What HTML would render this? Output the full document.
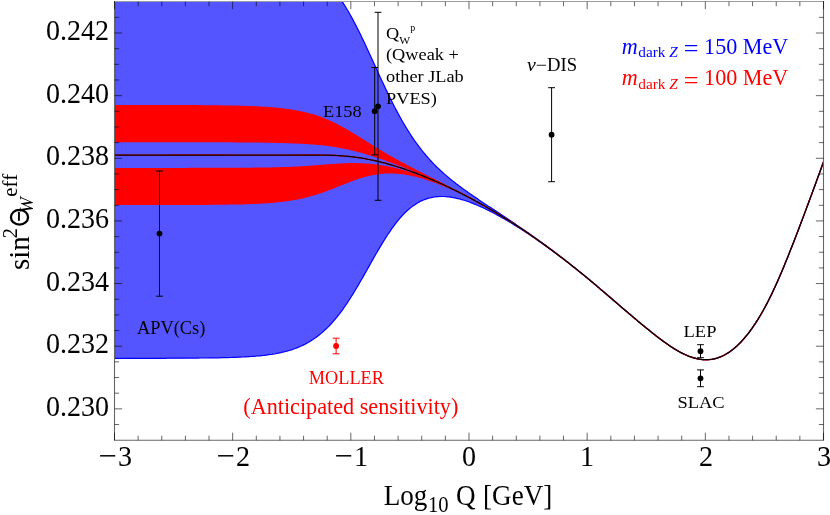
<!DOCTYPE html>
<html><head><meta charset="utf-8"><title>sin2 theta_W running with dark Z</title>
<style>
html,body{margin:0;padding:0;background:#fff;}
#w{position:relative;width:830px;height:515px;overflow:hidden;background:#fff;font-family:"Liberation Serif",serif;}
.t{position:absolute;white-space:nowrap;line-height:1;font-family:"Liberation Serif",serif;}
#tl{position:absolute;left:0;top:0;width:830px;height:515px;will-change:transform;}
</style></head><body><div id="w">
<svg width="830" height="515" viewBox="0 0 830 515" style="position:absolute;left:0;top:0">
<defs><clipPath id="c"><rect x="115.0" y="2.0" width="708.0" height="437.8"/></clipPath></defs>
<g clip-path="url(#c)">
<path d="M114.5,-48.2 L116.0,-48.2 L117.5,-48.2 L119.0,-48.2 L120.5,-48.2 L122.0,-48.2 L123.5,-48.2 L125.0,-48.2 L126.5,-48.2 L128.0,-48.2 L129.5,-48.2 L131.0,-48.2 L132.5,-48.2 L134.0,-48.2 L135.5,-48.2 L137.0,-48.2 L138.5,-48.2 L140.0,-48.2 L141.5,-48.2 L143.0,-48.2 L144.5,-48.2 L146.0,-48.2 L147.5,-48.2 L149.0,-48.2 L150.5,-48.2 L152.0,-48.2 L153.5,-48.2 L155.0,-48.2 L156.5,-48.2 L158.0,-48.2 L159.5,-48.2 L161.0,-48.2 L162.5,-48.2 L164.0,-48.1 L165.5,-48.1 L167.0,-48.1 L168.5,-48.1 L170.0,-48.1 L171.5,-48.1 L173.0,-48.1 L174.5,-48.1 L176.0,-48.1 L177.5,-48.1 L179.0,-48.1 L180.5,-48.1 L182.0,-48.1 L183.5,-48.1 L185.0,-48.1 L186.5,-48.1 L188.0,-48.1 L189.5,-48.1 L191.0,-48.1 L192.5,-48.1 L194.0,-48.0 L195.5,-48.0 L197.0,-48.0 L198.5,-48.0 L200.0,-48.0 L201.5,-48.0 L203.0,-48.0 L204.5,-47.9 L206.0,-47.9 L207.5,-47.9 L209.0,-47.9 L210.5,-47.9 L212.0,-47.8 L213.5,-47.8 L215.0,-47.8 L216.5,-47.7 L218.0,-47.7 L219.5,-47.7 L221.0,-47.7 L222.5,-47.6 L224.0,-47.6 L225.5,-47.5 L227.0,-47.5 L228.5,-47.4 L230.0,-47.4 L231.5,-47.3 L233.0,-47.3 L234.5,-47.2 L236.0,-47.2 L237.5,-47.1 L239.0,-47.0 L240.5,-47.0 L242.0,-46.9 L243.5,-46.8 L245.0,-46.7 L246.5,-46.7 L248.0,-46.6 L249.5,-46.5 L251.0,-46.4 L252.5,-46.2 L254.0,-46.1 L255.5,-46.0 L257.0,-45.9 L258.5,-45.7 L260.0,-45.6 L261.5,-45.4 L263.0,-45.3 L264.5,-45.1 L266.0,-44.9 L267.5,-44.7 L269.0,-44.5 L270.5,-44.3 L272.0,-44.1 L273.5,-43.8 L275.0,-43.6 L276.5,-43.3 L278.0,-43.0 L279.5,-42.7 L281.0,-42.4 L282.5,-42.1 L284.0,-41.7 L285.5,-41.4 L287.0,-41.0 L288.5,-40.5 L290.0,-40.1 L291.5,-39.6 L293.0,-39.2 L294.5,-38.6 L296.0,-38.1 L297.5,-37.5 L299.0,-36.9 L300.5,-36.3 L302.0,-35.6 L303.5,-34.9 L305.0,-34.2 L306.5,-33.4 L308.0,-32.6 L309.5,-31.7 L311.0,-30.8 L312.5,-29.8 L314.0,-28.8 L315.5,-27.8 L317.0,-26.7 L318.5,-25.5 L320.0,-24.3 L321.5,-23.0 L323.0,-21.6 L324.5,-20.2 L326.0,-18.8 L327.5,-17.2 L329.0,-15.6 L330.5,-14.0 L332.0,-12.2 L333.5,-10.4 L335.0,-8.5 L336.5,-6.5 L338.0,-4.5 L339.5,-2.4 L341.0,-0.2 L342.5,2.1 L344.0,4.4 L345.5,6.8 L347.0,9.3 L348.5,11.8 L350.0,14.5 L351.5,17.1 L353.0,19.9 L354.5,22.7 L356.0,25.6 L357.5,28.6 L359.0,31.5 L360.5,34.6 L362.0,37.7 L363.5,40.8 L365.0,44.0 L366.5,47.2 L368.0,50.4 L369.5,53.7 L371.0,56.9 L372.5,60.2 L374.0,63.5 L375.5,66.8 L377.0,70.1 L378.5,73.4 L380.0,76.7 L381.5,79.9 L383.0,83.1 L384.5,86.3 L386.0,89.5 L387.5,92.6 L389.0,95.7 L390.5,98.8 L392.0,101.8 L393.5,104.8 L395.0,107.7 L396.5,110.6 L398.0,113.4 L399.5,116.1 L401.0,118.8 L402.5,121.5 L404.0,124.0 L405.5,126.6 L407.0,129.0 L408.5,131.4 L410.0,133.8 L411.5,136.1 L413.0,138.3 L414.5,140.5 L416.0,142.6 L417.5,144.7 L419.0,146.7 L420.5,148.6 L422.0,150.5 L423.5,152.4 L425.0,154.2 L426.5,156.0 L428.0,157.7 L429.5,159.4 L431.0,161.0 L432.5,162.6 L434.0,164.2 L435.5,165.7 L437.0,167.2 L438.5,168.6 L440.0,170.0 L441.5,171.4 L443.0,172.8 L444.5,174.1 L446.0,175.4 L447.5,176.7 L449.0,177.9 L450.5,179.2 L452.0,180.4 L453.5,181.6 L455.0,182.7 L456.5,183.9 L458.0,185.0 L459.5,186.2 L461.0,187.3 L462.5,188.4 L464.0,189.5 L465.5,190.5 L467.0,191.6 L468.5,192.7 L470.0,193.7 L471.5,194.7 L473.0,195.8 L474.5,196.8 L476.0,197.8 L477.5,198.8 L479.0,199.9 L480.5,200.9 L482.0,201.9 L483.5,202.9 L485.0,203.9 L486.5,204.9 L488.0,205.9 L489.5,206.8 L491.0,207.8 L492.5,208.8 L494.0,209.8 L495.5,210.8 L497.0,211.8 L498.5,212.8 L500.0,213.8 L501.5,214.8 L503.0,215.8 L504.5,216.8 L506.0,217.8 L507.5,218.8 L509.0,219.8 L510.5,220.8 L512.0,221.8 L513.5,222.8 L515.0,223.8 L516.5,224.9 L518.0,225.9 L519.5,226.9 L521.0,227.9 L522.5,229.0 L524.0,230.0 L525.5,231.0 L527.0,232.1 L528.5,233.1 L530.0,234.2 L531.5,235.3 L533.0,236.3 L534.5,237.4 L536.0,238.5 L537.5,239.5 L539.0,240.6 L540.5,241.7 L542.0,242.8 L543.5,243.9 L545.0,245.0 L546.5,246.1 L548.0,247.2 L549.5,248.3 L551.0,249.4 L552.5,250.5 L554.0,251.7 L555.5,252.8 L557.0,253.9 L558.5,255.1 L560.0,256.2 L561.5,257.4 L563.0,258.5 L564.5,259.7 L566.0,260.9 L567.5,262.0 L569.0,263.2 L570.5,264.4 L572.0,265.6 L573.5,266.8 L575.0,268.0 L576.5,269.2 L578.0,270.4 L579.5,271.6 L581.0,272.8 L582.5,274.1 L584.0,275.3 L585.5,276.5 L587.0,277.8 L588.5,279.0 L590.0,280.3 L591.5,281.5 L593.0,282.8 L594.5,284.0 L596.0,285.3 L597.5,286.6 L599.0,287.9 L600.5,289.1 L602.0,290.4 L603.5,291.7 L605.0,293.0 L606.5,294.3 L608.0,295.5 L609.5,296.8 L611.0,298.1 L612.5,299.4 L614.0,300.7 L615.5,302.0 L617.0,303.3 L618.5,304.6 L620.0,305.9 L621.5,307.2 L623.0,308.4 L624.5,309.7 L626.0,311.0 L627.5,312.3 L629.0,313.6 L630.5,314.8 L632.0,316.1 L633.5,317.4 L635.0,318.6 L636.5,319.9 L638.0,321.2 L639.5,322.4 L641.0,323.6 L642.5,324.9 L644.0,326.1 L645.5,327.4 L647.0,328.6 L648.5,329.8 L650.0,331.0 L651.5,332.2 L653.0,333.4 L654.5,334.6 L656.0,335.8 L657.5,336.9 L659.0,338.1 L660.5,339.2 L662.0,340.3 L663.5,341.4 L665.0,342.5 L666.5,343.6 L668.0,344.6 L669.5,345.7 L671.0,346.7 L672.5,347.6 L674.0,348.6 L675.5,349.5 L677.0,350.4 L678.5,351.2 L680.0,352.1 L681.5,352.9 L683.0,353.6 L684.5,354.3 L686.0,355.0 L687.5,355.7 L689.0,356.3 L690.5,356.8 L692.0,357.3 L693.5,357.8 L695.0,358.2 L696.5,358.6 L698.0,358.9 L699.5,359.2 L701.0,359.4 L702.5,359.6 L704.0,359.7 L705.5,359.7 L707.0,359.7 L708.5,359.7 L710.0,359.5 L711.5,359.4 L713.0,359.1 L714.5,358.8 L716.0,358.4 L717.5,358.0 L719.0,357.4 L720.5,356.9 L722.0,356.2 L723.5,355.5 L725.0,354.7 L726.5,353.8 L728.0,352.9 L729.5,351.9 L731.0,350.8 L732.5,349.7 L734.0,348.5 L735.5,347.2 L737.0,345.9 L738.5,344.4 L740.0,343.0 L741.5,341.4 L743.0,339.7 L744.5,338.0 L746.0,336.2 L747.5,334.4 L749.0,332.5 L750.5,330.4 L752.0,328.4 L753.5,326.2 L755.0,324.0 L756.5,321.7 L758.0,319.3 L759.5,316.8 L761.0,314.3 L762.5,311.7 L764.0,309.0 L765.5,306.2 L767.0,303.4 L768.5,300.5 L770.0,297.5 L771.5,294.4 L773.0,291.2 L774.5,288.0 L776.0,284.7 L777.5,281.4 L779.0,278.0 L780.5,274.5 L782.0,271.0 L783.5,267.4 L785.0,263.8 L786.5,260.1 L788.0,256.4 L789.5,252.6 L791.0,248.8 L792.5,245.0 L794.0,241.2 L795.5,237.3 L797.0,233.4 L798.5,229.5 L800.0,225.5 L801.5,221.5 L803.0,217.6 L804.5,213.6 L806.0,209.6 L807.5,205.5 L809.0,201.5 L810.5,197.4 L812.0,193.4 L813.5,189.3 L815.0,185.2 L816.5,181.1 L818.0,177.0 L819.5,172.9 L821.0,168.8 L823.5,161.9 L823.5,161.9 L821.0,168.8 L819.5,172.9 L818.0,177.0 L816.5,181.1 L815.0,185.2 L813.5,189.3 L812.0,193.4 L810.5,197.4 L809.0,201.5 L807.5,205.5 L806.0,209.6 L804.5,213.6 L803.0,217.6 L801.5,221.5 L800.0,225.5 L798.5,229.5 L797.0,233.4 L795.5,237.3 L794.0,241.2 L792.5,245.0 L791.0,248.8 L789.5,252.6 L788.0,256.4 L786.5,260.1 L785.0,263.8 L783.5,267.4 L782.0,271.0 L780.5,274.5 L779.0,278.0 L777.5,281.4 L776.0,284.7 L774.5,288.0 L773.0,291.2 L771.5,294.4 L770.0,297.5 L768.5,300.5 L767.0,303.4 L765.5,306.2 L764.0,309.0 L762.5,311.7 L761.0,314.3 L759.5,316.8 L758.0,319.3 L756.5,321.7 L755.0,324.0 L753.5,326.2 L752.0,328.4 L750.5,330.4 L749.0,332.5 L747.5,334.4 L746.0,336.2 L744.5,338.0 L743.0,339.7 L741.5,341.4 L740.0,343.0 L738.5,344.4 L737.0,345.9 L735.5,347.2 L734.0,348.5 L732.5,349.7 L731.0,350.8 L729.5,351.9 L728.0,352.9 L726.5,353.8 L725.0,354.7 L723.5,355.5 L722.0,356.2 L720.5,356.9 L719.0,357.4 L717.5,358.0 L716.0,358.4 L714.5,358.8 L713.0,359.1 L711.5,359.4 L710.0,359.5 L708.5,359.7 L707.0,359.7 L705.5,359.7 L704.0,359.7 L702.5,359.6 L701.0,359.4 L699.5,359.2 L698.0,358.9 L696.5,358.6 L695.0,358.2 L693.5,357.8 L692.0,357.3 L690.5,356.8 L689.0,356.3 L687.5,355.7 L686.0,355.0 L684.5,354.3 L683.0,353.6 L681.5,352.9 L680.0,352.1 L678.5,351.2 L677.0,350.4 L675.5,349.5 L674.0,348.6 L672.5,347.6 L671.0,346.7 L669.5,345.7 L668.0,344.6 L666.5,343.6 L665.0,342.5 L663.5,341.4 L662.0,340.3 L660.5,339.2 L659.0,338.1 L657.5,336.9 L656.0,335.8 L654.5,334.6 L653.0,333.4 L651.5,332.2 L650.0,331.0 L648.5,329.8 L647.0,328.6 L645.5,327.4 L644.0,326.1 L642.5,324.9 L641.0,323.7 L639.5,322.4 L638.0,321.2 L636.5,319.9 L635.0,318.7 L633.5,317.4 L632.0,316.1 L630.5,314.9 L629.0,313.6 L627.5,312.3 L626.0,311.0 L624.5,309.7 L623.0,308.5 L621.5,307.2 L620.0,305.9 L618.5,304.6 L617.0,303.3 L615.5,302.0 L614.0,300.7 L612.5,299.5 L611.0,298.2 L609.5,296.9 L608.0,295.6 L606.5,294.3 L605.0,293.0 L603.5,291.7 L602.0,290.5 L600.5,289.2 L599.0,287.9 L597.5,286.6 L596.0,285.4 L594.5,284.1 L593.0,282.8 L591.5,281.6 L590.0,280.3 L588.5,279.1 L587.0,277.9 L585.5,276.6 L584.0,275.4 L582.5,274.2 L581.0,272.9 L579.5,271.7 L578.0,270.5 L576.5,269.3 L575.0,268.1 L573.5,266.9 L572.0,265.8 L570.5,264.6 L569.0,263.4 L567.5,262.2 L566.0,261.1 L564.5,259.9 L563.0,258.8 L561.5,257.6 L560.0,256.5 L558.5,255.4 L557.0,254.2 L555.5,253.1 L554.0,252.0 L552.5,250.9 L551.0,249.8 L549.5,248.7 L548.0,247.6 L546.5,246.5 L545.0,245.4 L543.5,244.4 L542.0,243.3 L540.5,242.3 L539.0,241.2 L537.5,240.2 L536.0,239.1 L534.5,238.1 L533.0,237.1 L531.5,236.1 L530.0,235.0 L528.5,234.0 L527.0,233.0 L525.5,232.1 L524.0,231.1 L522.5,230.1 L521.0,229.1 L519.5,228.2 L518.0,227.2 L516.5,226.3 L515.0,225.4 L513.5,224.4 L512.0,223.5 L510.5,222.6 L509.0,221.7 L507.5,220.8 L506.0,219.9 L504.5,219.1 L503.0,218.2 L501.5,217.4 L500.0,216.5 L498.5,215.7 L497.0,214.9 L495.5,214.0 L494.0,213.2 L492.5,212.5 L491.0,211.7 L489.5,210.9 L488.0,210.2 L486.5,209.4 L485.0,208.7 L483.5,208.0 L482.0,207.3 L480.5,206.6 L479.0,206.0 L477.5,205.3 L476.0,204.7 L474.5,204.1 L473.0,203.5 L471.5,202.9 L470.0,202.3 L468.5,201.8 L467.0,201.3 L465.5,200.8 L464.0,200.3 L462.5,199.8 L461.0,199.4 L459.5,199.0 L458.0,198.6 L456.5,198.3 L455.0,197.9 L453.5,197.6 L452.0,197.4 L450.5,197.1 L449.0,196.9 L447.5,196.8 L446.0,196.6 L444.5,196.5 L443.0,196.5 L441.5,196.5 L440.0,196.5 L438.5,196.6 L437.0,196.7 L435.5,196.8 L434.0,197.0 L432.5,197.3 L431.0,197.6 L429.5,198.0 L428.0,198.4 L426.5,198.9 L425.0,199.4 L423.5,200.0 L422.0,200.6 L420.5,201.3 L419.0,202.1 L417.5,203.0 L416.0,203.9 L414.5,204.9 L413.0,205.9 L411.5,207.1 L410.0,208.3 L408.5,209.5 L407.0,210.9 L405.5,212.3 L404.0,213.8 L402.5,215.4 L401.0,217.0 L399.5,218.7 L398.0,220.5 L396.5,222.4 L395.0,224.3 L393.5,226.3 L392.0,228.4 L390.5,230.6 L389.0,232.8 L387.5,235.0 L386.0,237.3 L384.5,239.7 L383.0,242.1 L381.5,244.6 L380.0,247.1 L378.5,249.6 L377.0,252.2 L375.5,254.8 L374.0,257.5 L372.5,260.1 L371.0,262.8 L369.5,265.4 L368.0,268.1 L366.5,270.8 L365.0,273.4 L363.5,276.1 L362.0,278.7 L360.5,281.3 L359.0,283.9 L357.5,286.5 L356.0,289.0 L354.5,291.5 L353.0,293.9 L351.5,296.3 L350.0,298.7 L348.5,301.0 L347.0,303.3 L345.5,305.5 L344.0,307.6 L342.5,309.8 L341.0,311.8 L339.5,313.8 L338.0,315.7 L336.5,317.6 L335.0,319.4 L333.5,321.2 L332.0,322.8 L330.5,324.5 L329.0,326.1 L327.5,327.6 L326.0,329.0 L324.5,330.4 L323.0,331.8 L321.5,333.1 L320.0,334.3 L318.5,335.5 L317.0,336.7 L315.5,337.8 L314.0,338.8 L312.5,339.8 L311.0,340.8 L309.5,341.7 L308.0,342.6 L306.5,343.4 L305.0,344.2 L303.5,344.9 L302.0,345.7 L300.5,346.3 L299.0,347.0 L297.5,347.6 L296.0,348.2 L294.5,348.7 L293.0,349.3 L291.5,349.8 L290.0,350.2 L288.5,350.7 L287.0,351.1 L285.5,351.5 L284.0,351.9 L282.5,352.2 L281.0,352.6 L279.5,352.9 L278.0,353.2 L276.5,353.5 L275.0,353.8 L273.5,354.0 L272.0,354.3 L270.5,354.5 L269.0,354.7 L267.5,354.9 L266.0,355.1 L264.5,355.3 L263.0,355.5 L261.5,355.6 L260.0,355.8 L258.5,355.9 L257.0,356.0 L255.5,356.2 L254.0,356.3 L252.5,356.4 L251.0,356.5 L249.5,356.6 L248.0,356.7 L246.5,356.8 L245.0,356.9 L243.5,357.0 L242.0,357.0 L240.5,357.1 L239.0,357.2 L237.5,357.2 L236.0,357.3 L234.5,357.4 L233.0,357.4 L231.5,357.5 L230.0,357.5 L228.5,357.6 L227.0,357.6 L225.5,357.6 L224.0,357.7 L222.5,357.7 L221.0,357.7 L219.5,357.8 L218.0,357.8 L216.5,357.8 L215.0,357.8 L213.5,357.9 L212.0,357.9 L210.5,357.9 L209.0,357.9 L207.5,358.0 L206.0,358.0 L204.5,358.0 L203.0,358.0 L201.5,358.0 L200.0,358.0 L198.5,358.1 L197.0,358.1 L195.5,358.1 L194.0,358.1 L192.5,358.1 L191.0,358.1 L189.5,358.1 L188.0,358.1 L186.5,358.1 L185.0,358.2 L183.5,358.2 L182.0,358.2 L180.5,358.2 L179.0,358.2 L177.5,358.2 L176.0,358.2 L174.5,358.2 L173.0,358.2 L171.5,358.2 L170.0,358.2 L168.5,358.2 L167.0,358.2 L165.5,358.3 L164.0,358.3 L162.5,358.3 L161.0,358.3 L159.5,358.3 L158.0,358.3 L156.5,358.3 L155.0,358.3 L153.5,358.3 L152.0,358.3 L150.5,358.3 L149.0,358.3 L147.5,358.3 L146.0,358.3 L144.5,358.3 L143.0,358.3 L141.5,358.3 L140.0,358.3 L138.5,358.3 L137.0,358.3 L135.5,358.3 L134.0,358.3 L132.5,358.3 L131.0,358.3 L129.5,358.3 L128.0,358.3 L126.5,358.3 L125.0,358.3 L123.5,358.3 L122.0,358.3 L120.5,358.3 L119.0,358.3 L117.5,358.3 L116.0,358.3 L114.5,358.3Z" fill="#5555ff" stroke="#0000ff" stroke-width="1.2"/>
<path d="M114.5,105.0 L116.0,105.0 L117.5,105.0 L119.0,105.0 L120.5,105.0 L122.0,105.1 L123.5,105.1 L125.0,105.1 L126.5,105.1 L128.0,105.1 L129.5,105.1 L131.0,105.1 L132.5,105.1 L134.0,105.1 L135.5,105.1 L137.0,105.1 L138.5,105.1 L140.0,105.1 L141.5,105.1 L143.0,105.1 L144.5,105.1 L146.0,105.1 L147.5,105.1 L149.0,105.1 L150.5,105.1 L152.0,105.1 L153.5,105.1 L155.0,105.1 L156.5,105.1 L158.0,105.1 L159.5,105.1 L161.0,105.1 L162.5,105.1 L164.0,105.1 L165.5,105.1 L167.0,105.1 L168.5,105.1 L170.0,105.1 L171.5,105.1 L173.0,105.1 L174.5,105.1 L176.0,105.1 L177.5,105.1 L179.0,105.1 L180.5,105.1 L182.0,105.1 L183.5,105.1 L185.0,105.1 L186.5,105.1 L188.0,105.1 L189.5,105.1 L191.0,105.1 L192.5,105.1 L194.0,105.1 L195.5,105.1 L197.0,105.1 L198.5,105.1 L200.0,105.1 L201.5,105.2 L203.0,105.2 L204.5,105.2 L206.0,105.2 L207.5,105.2 L209.0,105.2 L210.5,105.2 L212.0,105.2 L213.5,105.3 L215.0,105.3 L216.5,105.3 L218.0,105.3 L219.5,105.3 L221.0,105.3 L222.5,105.4 L224.0,105.4 L225.5,105.4 L227.0,105.4 L228.5,105.5 L230.0,105.5 L231.5,105.5 L233.0,105.5 L234.5,105.6 L236.0,105.6 L237.5,105.6 L239.0,105.7 L240.5,105.7 L242.0,105.8 L243.5,105.8 L245.0,105.9 L246.5,105.9 L248.0,106.0 L249.5,106.0 L251.0,106.1 L252.5,106.1 L254.0,106.2 L255.5,106.3 L257.0,106.3 L258.5,106.4 L260.0,106.5 L261.5,106.6 L263.0,106.7 L264.5,106.7 L266.0,106.8 L267.5,106.9 L269.0,107.1 L270.5,107.2 L272.0,107.3 L273.5,107.4 L275.0,107.5 L276.5,107.7 L278.0,107.8 L279.5,108.0 L281.0,108.1 L282.5,108.3 L284.0,108.5 L285.5,108.7 L287.0,108.9 L288.5,109.1 L290.0,109.3 L291.5,109.5 L293.0,109.8 L294.5,110.0 L296.0,110.3 L297.5,110.6 L299.0,110.9 L300.5,111.2 L302.0,111.5 L303.5,111.8 L305.0,112.2 L306.5,112.5 L308.0,112.9 L309.5,113.3 L311.0,113.7 L312.5,114.1 L314.0,114.6 L315.5,115.1 L317.0,115.5 L318.5,116.1 L320.0,116.6 L321.5,117.1 L323.0,117.7 L324.5,118.3 L326.0,118.9 L327.5,119.5 L329.0,120.2 L330.5,120.8 L332.0,121.5 L333.5,122.2 L335.0,123.0 L336.5,123.7 L338.0,124.5 L339.5,125.3 L341.0,126.1 L342.5,126.9 L344.0,127.7 L345.5,128.5 L347.0,129.4 L348.5,130.3 L350.0,131.2 L351.5,132.1 L353.0,133.0 L354.5,133.9 L356.0,134.8 L357.5,135.7 L359.0,136.7 L360.5,137.6 L362.0,138.5 L363.5,139.5 L365.0,140.4 L366.5,141.4 L368.0,142.3 L369.5,143.3 L371.0,144.2 L372.5,145.1 L374.0,146.1 L375.5,147.0 L377.0,147.9 L378.5,148.8 L380.0,149.7 L381.5,150.6 L383.0,151.5 L384.5,152.4 L386.0,153.3 L387.5,154.2 L389.0,155.0 L390.5,155.9 L392.0,156.7 L393.5,157.6 L395.0,158.4 L396.5,159.3 L398.0,160.1 L399.5,160.9 L401.0,161.7 L402.5,162.5 L404.0,163.3 L405.5,164.1 L407.0,164.9 L408.5,165.7 L410.0,166.5 L411.5,167.3 L413.0,168.0 L414.5,168.8 L416.0,169.6 L417.5,170.4 L419.0,171.1 L420.5,171.9 L422.0,172.6 L423.5,173.4 L425.0,174.2 L426.5,174.9 L428.0,175.7 L429.5,176.4 L431.0,177.2 L432.5,178.0 L434.0,178.7 L435.5,179.5 L437.0,180.2 L438.5,181.0 L440.0,181.8 L441.5,182.5 L443.0,183.3 L444.5,184.0 L446.0,184.8 L447.5,185.6 L449.0,186.4 L450.5,187.1 L452.0,187.9 L453.5,188.7 L455.0,189.5 L456.5,190.3 L458.0,191.1 L459.5,191.9 L461.0,192.7 L462.5,193.5 L464.0,194.3 L465.5,195.1 L467.0,195.9 L468.5,196.7 L470.0,197.5 L471.5,198.4 L473.0,199.2 L474.5,200.0 L476.0,200.9 L477.5,201.7 L479.0,202.6 L480.5,203.4 L482.0,204.3 L483.5,205.2 L485.0,206.0 L486.5,206.9 L488.0,207.8 L489.5,208.7 L491.0,209.6 L492.5,210.4 L494.0,211.3 L495.5,212.3 L497.0,213.2 L498.5,214.1 L500.0,215.0 L501.5,215.9 L503.0,216.9 L504.5,217.8 L506.0,218.7 L507.5,219.7 L509.0,220.6 L510.5,221.6 L512.0,222.6 L513.5,223.5 L515.0,224.5 L516.5,225.5 L518.0,226.5 L519.5,227.5 L521.0,228.5 L522.5,229.5 L524.0,230.5 L525.5,231.5 L527.0,232.5 L528.5,233.5 L530.0,234.6 L531.5,235.6 L533.0,236.6 L534.5,237.7 L536.0,238.7 L537.5,239.8 L539.0,240.9 L540.5,241.9 L542.0,243.0 L543.5,244.1 L545.0,245.2 L546.5,246.3 L548.0,247.4 L549.5,248.5 L551.0,249.6 L552.5,250.7 L554.0,251.8 L555.5,252.9 L557.0,254.1 L558.5,255.2 L560.0,256.3 L561.5,257.5 L563.0,258.6 L564.5,259.8 L566.0,261.0 L567.5,262.1 L569.0,263.3 L570.5,264.5 L572.0,265.7 L573.5,266.9 L575.0,268.0 L576.5,269.2 L578.0,270.5 L579.5,271.7 L581.0,272.9 L582.5,274.1 L584.0,275.3 L585.5,276.6 L587.0,277.8 L588.5,279.0 L590.0,280.3 L591.5,281.5 L593.0,282.8 L594.5,284.1 L596.0,285.3 L597.5,286.6 L599.0,287.9 L600.5,289.2 L602.0,290.4 L603.5,291.7 L605.0,293.0 L606.5,294.3 L608.0,295.6 L609.5,296.9 L611.0,298.1 L612.5,299.4 L614.0,300.7 L615.5,302.0 L617.0,303.3 L618.5,304.6 L620.0,305.9 L621.5,307.2 L623.0,308.5 L624.5,309.7 L626.0,311.0 L627.5,312.3 L629.0,313.6 L630.5,314.8 L632.0,316.1 L633.5,317.4 L635.0,318.6 L636.5,319.9 L638.0,321.2 L639.5,322.4 L641.0,323.7 L642.5,324.9 L644.0,326.1 L645.5,327.4 L647.0,328.6 L648.5,329.8 L650.0,331.0 L651.5,332.2 L653.0,333.4 L654.5,334.6 L656.0,335.8 L657.5,336.9 L659.0,338.1 L660.5,339.2 L662.0,340.3 L663.5,341.4 L665.0,342.5 L666.5,343.6 L668.0,344.6 L669.5,345.7 L671.0,346.7 L672.5,347.6 L674.0,348.6 L675.5,349.5 L677.0,350.4 L678.5,351.2 L680.0,352.1 L681.5,352.9 L683.0,353.6 L684.5,354.3 L686.0,355.0 L687.5,355.7 L689.0,356.3 L690.5,356.8 L692.0,357.3 L693.5,357.8 L695.0,358.2 L696.5,358.6 L698.0,358.9 L699.5,359.2 L701.0,359.4 L702.5,359.6 L704.0,359.7 L705.5,359.7 L707.0,359.7 L708.5,359.7 L710.0,359.5 L711.5,359.4 L713.0,359.1 L714.5,358.8 L716.0,358.4 L717.5,358.0 L719.0,357.4 L720.5,356.9 L722.0,356.2 L723.5,355.5 L725.0,354.7 L726.5,353.8 L728.0,352.9 L729.5,351.9 L731.0,350.8 L732.5,349.7 L734.0,348.5 L735.5,347.2 L737.0,345.9 L738.5,344.4 L740.0,343.0 L741.5,341.4 L743.0,339.7 L744.5,338.0 L746.0,336.2 L747.5,334.4 L749.0,332.5 L750.5,330.4 L752.0,328.4 L753.5,326.2 L755.0,324.0 L756.5,321.7 L758.0,319.3 L759.5,316.8 L761.0,314.3 L762.5,311.7 L764.0,309.0 L765.5,306.2 L767.0,303.4 L768.5,300.5 L770.0,297.5 L771.5,294.4 L773.0,291.2 L774.5,288.0 L776.0,284.7 L777.5,281.4 L779.0,278.0 L780.5,274.5 L782.0,271.0 L783.5,267.4 L785.0,263.8 L786.5,260.1 L788.0,256.4 L789.5,252.6 L791.0,248.8 L792.5,245.0 L794.0,241.2 L795.5,237.3 L797.0,233.4 L798.5,229.5 L800.0,225.5 L801.5,221.5 L803.0,217.6 L804.5,213.6 L806.0,209.6 L807.5,205.5 L809.0,201.5 L810.5,197.4 L812.0,193.4 L813.5,189.3 L815.0,185.2 L816.5,181.1 L818.0,177.0 L819.5,172.9 L821.0,168.8 L823.5,161.9 L823.5,161.9 L821.0,168.8 L819.5,172.9 L818.0,177.0 L816.5,181.1 L815.0,185.2 L813.5,189.3 L812.0,193.4 L810.5,197.4 L809.0,201.5 L807.5,205.5 L806.0,209.6 L804.5,213.6 L803.0,217.6 L801.5,221.5 L800.0,225.5 L798.5,229.5 L797.0,233.4 L795.5,237.3 L794.0,241.2 L792.5,245.0 L791.0,248.8 L789.5,252.6 L788.0,256.4 L786.5,260.1 L785.0,263.8 L783.5,267.4 L782.0,271.0 L780.5,274.5 L779.0,278.0 L777.5,281.4 L776.0,284.7 L774.5,288.0 L773.0,291.2 L771.5,294.4 L770.0,297.5 L768.5,300.5 L767.0,303.4 L765.5,306.2 L764.0,309.0 L762.5,311.7 L761.0,314.3 L759.5,316.8 L758.0,319.3 L756.5,321.7 L755.0,324.0 L753.5,326.2 L752.0,328.4 L750.5,330.4 L749.0,332.5 L747.5,334.4 L746.0,336.2 L744.5,338.0 L743.0,339.7 L741.5,341.4 L740.0,343.0 L738.5,344.4 L737.0,345.9 L735.5,347.2 L734.0,348.5 L732.5,349.7 L731.0,350.8 L729.5,351.9 L728.0,352.9 L726.5,353.8 L725.0,354.7 L723.5,355.5 L722.0,356.2 L720.5,356.9 L719.0,357.4 L717.5,358.0 L716.0,358.4 L714.5,358.8 L713.0,359.1 L711.5,359.4 L710.0,359.5 L708.5,359.7 L707.0,359.7 L705.5,359.7 L704.0,359.7 L702.5,359.6 L701.0,359.4 L699.5,359.2 L698.0,358.9 L696.5,358.6 L695.0,358.2 L693.5,357.8 L692.0,357.3 L690.5,356.8 L689.0,356.3 L687.5,355.7 L686.0,355.0 L684.5,354.3 L683.0,353.6 L681.5,352.9 L680.0,352.1 L678.5,351.2 L677.0,350.4 L675.5,349.5 L674.0,348.6 L672.5,347.6 L671.0,346.7 L669.5,345.7 L668.0,344.6 L666.5,343.6 L665.0,342.5 L663.5,341.4 L662.0,340.3 L660.5,339.2 L659.0,338.1 L657.5,336.9 L656.0,335.8 L654.5,334.6 L653.0,333.4 L651.5,332.2 L650.0,331.0 L648.5,329.8 L647.0,328.6 L645.5,327.4 L644.0,326.1 L642.5,324.9 L641.0,323.7 L639.5,322.4 L638.0,321.2 L636.5,319.9 L635.0,318.6 L633.5,317.4 L632.0,316.1 L630.5,314.8 L629.0,313.6 L627.5,312.3 L626.0,311.0 L624.5,309.7 L623.0,308.5 L621.5,307.2 L620.0,305.9 L618.5,304.6 L617.0,303.3 L615.5,302.0 L614.0,300.7 L612.5,299.4 L611.0,298.1 L609.5,296.9 L608.0,295.6 L606.5,294.3 L605.0,293.0 L603.5,291.7 L602.0,290.4 L600.5,289.2 L599.0,287.9 L597.5,286.6 L596.0,285.3 L594.5,284.1 L593.0,282.8 L591.5,281.6 L590.0,280.3 L588.5,279.0 L587.0,277.8 L585.5,276.6 L584.0,275.3 L582.5,274.1 L581.0,272.9 L579.5,271.7 L578.0,270.5 L576.5,269.3 L575.0,268.1 L573.5,266.9 L572.0,265.7 L570.5,264.5 L569.0,263.3 L567.5,262.1 L566.0,261.0 L564.5,259.8 L563.0,258.6 L561.5,257.5 L560.0,256.3 L558.5,255.2 L557.0,254.1 L555.5,252.9 L554.0,251.8 L552.5,250.7 L551.0,249.6 L549.5,248.5 L548.0,247.4 L546.5,246.3 L545.0,245.2 L543.5,244.1 L542.0,243.0 L540.5,242.0 L539.0,240.9 L537.5,239.8 L536.0,238.8 L534.5,237.7 L533.0,236.7 L531.5,235.6 L530.0,234.6 L528.5,233.6 L527.0,232.6 L525.5,231.5 L524.0,230.5 L522.5,229.5 L521.0,228.5 L519.5,227.5 L518.0,226.5 L516.5,225.6 L515.0,224.6 L513.5,223.6 L512.0,222.6 L510.5,221.7 L509.0,220.7 L507.5,219.8 L506.0,218.8 L504.5,217.9 L503.0,217.0 L501.5,216.0 L500.0,215.1 L498.5,214.2 L497.0,213.3 L495.5,212.4 L494.0,211.5 L492.5,210.6 L491.0,209.7 L489.5,208.8 L488.0,208.0 L486.5,207.1 L485.0,206.2 L483.5,205.4 L482.0,204.5 L480.5,203.7 L479.0,202.8 L477.5,202.0 L476.0,201.2 L474.5,200.3 L473.0,199.5 L471.5,198.7 L470.0,197.9 L468.5,197.1 L467.0,196.3 L465.5,195.5 L464.0,194.7 L462.5,193.9 L461.0,193.2 L459.5,192.4 L458.0,191.6 L456.5,190.9 L455.0,190.1 L453.5,189.4 L452.0,188.6 L450.5,187.9 L449.0,187.2 L447.5,186.4 L446.0,185.7 L444.5,185.0 L443.0,184.3 L441.5,183.6 L440.0,182.9 L438.5,182.2 L437.0,181.5 L435.5,180.8 L434.0,180.1 L432.5,179.4 L431.0,178.8 L429.5,178.1 L428.0,177.4 L426.5,176.8 L425.0,176.1 L423.5,175.5 L422.0,174.8 L420.5,174.2 L419.0,173.6 L417.5,172.9 L416.0,172.3 L414.5,171.7 L413.0,171.1 L411.5,170.5 L410.0,169.9 L408.5,169.3 L407.0,168.7 L405.5,168.1 L404.0,167.5 L402.5,166.9 L401.0,166.3 L399.5,165.8 L398.0,165.2 L396.5,164.6 L395.0,164.1 L393.5,163.5 L392.0,163.0 L390.5,162.4 L389.0,161.9 L387.5,161.4 L386.0,160.8 L384.5,160.3 L383.0,159.8 L381.5,159.3 L380.0,158.8 L378.5,158.3 L377.0,157.8 L375.5,157.3 L374.0,156.8 L372.5,156.3 L371.0,155.8 L369.5,155.4 L368.0,154.9 L366.5,154.5 L365.0,154.0 L363.5,153.6 L362.0,153.1 L360.5,152.7 L359.0,152.3 L357.5,151.9 L356.0,151.5 L354.5,151.1 L353.0,150.8 L351.5,150.4 L350.0,150.0 L348.5,149.7 L347.0,149.4 L345.5,149.1 L344.0,148.7 L342.5,148.4 L341.0,148.2 L339.5,147.9 L338.0,147.6 L336.5,147.4 L335.0,147.1 L333.5,146.9 L332.0,146.6 L330.5,146.4 L329.0,146.2 L327.5,146.0 L326.0,145.8 L324.5,145.6 L323.0,145.5 L321.5,145.3 L320.0,145.2 L318.5,145.0 L317.0,144.9 L315.5,144.7 L314.0,144.6 L312.5,144.5 L311.0,144.4 L309.5,144.3 L308.0,144.2 L306.5,144.1 L305.0,144.0 L303.5,143.9 L302.0,143.8 L300.5,143.8 L299.0,143.7 L297.5,143.6 L296.0,143.6 L294.5,143.5 L293.0,143.4 L291.5,143.4 L290.0,143.3 L288.5,143.3 L287.0,143.2 L285.5,143.2 L284.0,143.1 L282.5,143.1 L281.0,143.0 L279.5,143.0 L278.0,143.0 L276.5,142.9 L275.0,142.9 L273.5,142.8 L272.0,142.8 L270.5,142.8 L269.0,142.8 L267.5,142.7 L266.0,142.7 L264.5,142.7 L263.0,142.7 L261.5,142.6 L260.0,142.6 L258.5,142.6 L257.0,142.6 L255.5,142.6 L254.0,142.5 L252.5,142.5 L251.0,142.5 L249.5,142.5 L248.0,142.5 L246.5,142.5 L245.0,142.4 L243.5,142.4 L242.0,142.4 L240.5,142.4 L239.0,142.4 L237.5,142.4 L236.0,142.4 L234.5,142.4 L233.0,142.3 L231.5,142.3 L230.0,142.3 L228.5,142.3 L227.0,142.3 L225.5,142.3 L224.0,142.3 L222.5,142.3 L221.0,142.3 L219.5,142.3 L218.0,142.3 L216.5,142.3 L215.0,142.3 L213.5,142.3 L212.0,142.2 L210.5,142.2 L209.0,142.2 L207.5,142.2 L206.0,142.2 L204.5,142.2 L203.0,142.2 L201.5,142.2 L200.0,142.2 L198.5,142.2 L197.0,142.2 L195.5,142.2 L194.0,142.2 L192.5,142.2 L191.0,142.2 L189.5,142.2 L188.0,142.2 L186.5,142.2 L185.0,142.2 L183.5,142.2 L182.0,142.2 L180.5,142.2 L179.0,142.2 L177.5,142.2 L176.0,142.2 L174.5,142.2 L173.0,142.2 L171.5,142.2 L170.0,142.2 L168.5,142.2 L167.0,142.2 L165.5,142.2 L164.0,142.2 L162.5,142.2 L161.0,142.2 L159.5,142.2 L158.0,142.2 L156.5,142.2 L155.0,142.2 L153.5,142.2 L152.0,142.2 L150.5,142.2 L149.0,142.2 L147.5,142.2 L146.0,142.2 L144.5,142.2 L143.0,142.2 L141.5,142.2 L140.0,142.2 L138.5,142.2 L137.0,142.2 L135.5,142.2 L134.0,142.2 L132.5,142.2 L131.0,142.2 L129.5,142.2 L128.0,142.2 L126.5,142.2 L125.0,142.2 L123.5,142.2 L122.0,142.2 L120.5,142.2 L119.0,142.2 L117.5,142.2 L116.0,142.2 L114.5,142.2Z" fill="#ff0000"/>
<path d="M114.5,167.9 L116.0,167.9 L117.5,167.9 L119.0,167.9 L120.5,167.9 L122.0,167.9 L123.5,167.9 L125.0,167.9 L126.5,167.9 L128.0,167.9 L129.5,167.9 L131.0,167.9 L132.5,167.9 L134.0,167.9 L135.5,167.9 L137.0,167.9 L138.5,167.9 L140.0,167.9 L141.5,167.9 L143.0,167.9 L144.5,167.9 L146.0,167.9 L147.5,167.9 L149.0,167.9 L150.5,167.9 L152.0,167.9 L153.5,167.9 L155.0,167.9 L156.5,167.9 L158.0,167.9 L159.5,167.9 L161.0,167.9 L162.5,167.9 L164.0,167.9 L165.5,167.9 L167.0,167.9 L168.5,167.9 L170.0,167.9 L171.5,167.9 L173.0,167.9 L174.5,167.9 L176.0,167.9 L177.5,167.9 L179.0,167.9 L180.5,167.9 L182.0,167.9 L183.5,167.9 L185.0,167.9 L186.5,167.9 L188.0,167.8 L189.5,167.8 L191.0,167.8 L192.5,167.8 L194.0,167.8 L195.5,167.8 L197.0,167.8 L198.5,167.8 L200.0,167.8 L201.5,167.8 L203.0,167.8 L204.5,167.8 L206.0,167.8 L207.5,167.8 L209.0,167.8 L210.5,167.8 L212.0,167.8 L213.5,167.8 L215.0,167.8 L216.5,167.8 L218.0,167.8 L219.5,167.8 L221.0,167.8 L222.5,167.8 L224.0,167.8 L225.5,167.8 L227.0,167.8 L228.5,167.8 L230.0,167.8 L231.5,167.8 L233.0,167.8 L234.5,167.8 L236.0,167.8 L237.5,167.8 L239.0,167.7 L240.5,167.7 L242.0,167.7 L243.5,167.7 L245.0,167.7 L246.5,167.7 L248.0,167.7 L249.5,167.7 L251.0,167.7 L252.5,167.7 L254.0,167.6 L255.5,167.6 L257.0,167.6 L258.5,167.6 L260.0,167.6 L261.5,167.5 L263.0,167.5 L264.5,167.5 L266.0,167.5 L267.5,167.5 L269.0,167.4 L270.5,167.4 L272.0,167.4 L273.5,167.3 L275.0,167.3 L276.5,167.3 L278.0,167.2 L279.5,167.2 L281.0,167.1 L282.5,167.1 L284.0,167.0 L285.5,167.0 L287.0,166.9 L288.5,166.9 L290.0,166.8 L291.5,166.7 L293.0,166.7 L294.5,166.6 L296.0,166.5 L297.5,166.4 L299.0,166.4 L300.5,166.3 L302.0,166.2 L303.5,166.1 L305.0,166.0 L306.5,165.9 L308.0,165.8 L309.5,165.7 L311.0,165.6 L312.5,165.5 L314.0,165.4 L315.5,165.3 L317.0,165.1 L318.5,165.0 L320.0,164.9 L321.5,164.8 L323.0,164.7 L324.5,164.6 L326.0,164.4 L327.5,164.3 L329.0,164.2 L330.5,164.1 L332.0,164.0 L333.5,163.9 L335.0,163.8 L336.5,163.7 L338.0,163.6 L339.5,163.5 L341.0,163.4 L342.5,163.4 L344.0,163.3 L345.5,163.2 L347.0,163.2 L348.5,163.1 L350.0,163.1 L351.5,163.1 L353.0,163.1 L354.5,163.1 L356.0,163.1 L357.5,163.1 L359.0,163.1 L360.5,163.2 L362.0,163.2 L363.5,163.3 L365.0,163.4 L366.5,163.5 L368.0,163.6 L369.5,163.7 L371.0,163.9 L372.5,164.0 L374.0,164.2 L375.5,164.4 L377.0,164.6 L378.5,164.8 L380.0,165.0 L381.5,165.2 L383.0,165.5 L384.5,165.7 L386.0,166.0 L387.5,166.3 L389.0,166.6 L390.5,166.9 L392.0,167.3 L393.5,167.6 L395.0,168.0 L396.5,168.3 L398.0,168.7 L399.5,169.1 L401.0,169.5 L402.5,169.9 L404.0,170.4 L405.5,170.8 L407.0,171.2 L408.5,171.7 L410.0,172.2 L411.5,172.7 L413.0,173.2 L414.5,173.7 L416.0,174.2 L417.5,174.7 L419.0,175.2 L420.5,175.8 L422.0,176.3 L423.5,176.9 L425.0,177.5 L426.5,178.1 L428.0,178.6 L429.5,179.2 L431.0,179.8 L432.5,180.5 L434.0,181.1 L435.5,181.7 L437.0,182.3 L438.5,183.0 L440.0,183.6 L441.5,184.3 L443.0,185.0 L444.5,185.6 L446.0,186.3 L447.5,187.0 L449.0,187.7 L450.5,188.4 L452.0,189.1 L453.5,189.8 L455.0,190.6 L456.5,191.3 L458.0,192.0 L459.5,192.8 L461.0,193.5 L462.5,194.3 L464.0,195.0 L465.5,195.8 L467.0,196.6 L468.5,197.3 L470.0,198.1 L471.5,198.9 L473.0,199.7 L474.5,200.5 L476.0,201.3 L477.5,202.2 L479.0,203.0 L480.5,203.8 L482.0,204.7 L483.5,205.5 L485.0,206.4 L486.5,207.2 L488.0,208.1 L489.5,208.9 L491.0,209.8 L492.5,210.7 L494.0,211.6 L495.5,212.5 L497.0,213.4 L498.5,214.3 L500.0,215.2 L501.5,216.1 L503.0,217.0 L504.5,218.0 L506.0,218.9 L507.5,219.8 L509.0,220.8 L510.5,221.7 L512.0,222.7 L513.5,223.7 L515.0,224.6 L516.5,225.6 L518.0,226.6 L519.5,227.6 L521.0,228.6 L522.5,229.6 L524.0,230.6 L525.5,231.6 L527.0,232.6 L528.5,233.6 L530.0,234.6 L531.5,235.7 L533.0,236.7 L534.5,237.7 L536.0,238.8 L537.5,239.9 L539.0,240.9 L540.5,242.0 L542.0,243.1 L543.5,244.1 L545.0,245.2 L546.5,246.3 L548.0,247.4 L549.5,248.5 L551.0,249.6 L552.5,250.7 L554.0,251.8 L555.5,253.0 L557.0,254.1 L558.5,255.2 L560.0,256.4 L561.5,257.5 L563.0,258.7 L564.5,259.8 L566.0,261.0 L567.5,262.1 L569.0,263.3 L570.5,264.5 L572.0,265.7 L573.5,266.9 L575.0,268.1 L576.5,269.3 L578.0,270.5 L579.5,271.7 L581.0,272.9 L582.5,274.1 L584.0,275.3 L585.5,276.6 L587.0,277.8 L588.5,279.1 L590.0,280.3 L591.5,281.6 L593.0,282.8 L594.5,284.1 L596.0,285.3 L597.5,286.6 L599.0,287.9 L600.5,289.2 L602.0,290.4 L603.5,291.7 L605.0,293.0 L606.5,294.3 L608.0,295.6 L609.5,296.9 L611.0,298.1 L612.5,299.4 L614.0,300.7 L615.5,302.0 L617.0,303.3 L618.5,304.6 L620.0,305.9 L621.5,307.2 L623.0,308.5 L624.5,309.7 L626.0,311.0 L627.5,312.3 L629.0,313.6 L630.5,314.8 L632.0,316.1 L633.5,317.4 L635.0,318.6 L636.5,319.9 L638.0,321.2 L639.5,322.4 L641.0,323.7 L642.5,324.9 L644.0,326.1 L645.5,327.4 L647.0,328.6 L648.5,329.8 L650.0,331.0 L651.5,332.2 L653.0,333.4 L654.5,334.6 L656.0,335.8 L657.5,336.9 L659.0,338.1 L660.5,339.2 L662.0,340.3 L663.5,341.4 L665.0,342.5 L666.5,343.6 L668.0,344.6 L669.5,345.7 L671.0,346.7 L672.5,347.6 L674.0,348.6 L675.5,349.5 L677.0,350.4 L678.5,351.2 L680.0,352.1 L681.5,352.9 L683.0,353.6 L684.5,354.3 L686.0,355.0 L687.5,355.7 L689.0,356.3 L690.5,356.8 L692.0,357.3 L693.5,357.8 L695.0,358.2 L696.5,358.6 L698.0,358.9 L699.5,359.2 L701.0,359.4 L702.5,359.6 L704.0,359.7 L705.5,359.7 L707.0,359.7 L708.5,359.7 L710.0,359.5 L711.5,359.4 L713.0,359.1 L714.5,358.8 L716.0,358.4 L717.5,358.0 L719.0,357.4 L720.5,356.9 L722.0,356.2 L723.5,355.5 L725.0,354.7 L726.5,353.8 L728.0,352.9 L729.5,351.9 L731.0,350.8 L732.5,349.7 L734.0,348.5 L735.5,347.2 L737.0,345.9 L738.5,344.4 L740.0,343.0 L741.5,341.4 L743.0,339.7 L744.5,338.0 L746.0,336.2 L747.5,334.4 L749.0,332.5 L750.5,330.4 L752.0,328.4 L753.5,326.2 L755.0,324.0 L756.5,321.7 L758.0,319.3 L759.5,316.8 L761.0,314.3 L762.5,311.7 L764.0,309.0 L765.5,306.2 L767.0,303.4 L768.5,300.5 L770.0,297.5 L771.5,294.4 L773.0,291.2 L774.5,288.0 L776.0,284.7 L777.5,281.4 L779.0,278.0 L780.5,274.5 L782.0,271.0 L783.5,267.4 L785.0,263.8 L786.5,260.1 L788.0,256.4 L789.5,252.6 L791.0,248.8 L792.5,245.0 L794.0,241.2 L795.5,237.3 L797.0,233.4 L798.5,229.5 L800.0,225.5 L801.5,221.5 L803.0,217.6 L804.5,213.6 L806.0,209.6 L807.5,205.5 L809.0,201.5 L810.5,197.4 L812.0,193.4 L813.5,189.3 L815.0,185.2 L816.5,181.1 L818.0,177.0 L819.5,172.9 L821.0,168.8 L823.5,161.9 L823.5,161.9 L821.0,168.8 L819.5,172.9 L818.0,177.0 L816.5,181.1 L815.0,185.2 L813.5,189.3 L812.0,193.4 L810.5,197.4 L809.0,201.5 L807.5,205.5 L806.0,209.6 L804.5,213.6 L803.0,217.6 L801.5,221.5 L800.0,225.5 L798.5,229.5 L797.0,233.4 L795.5,237.3 L794.0,241.2 L792.5,245.0 L791.0,248.8 L789.5,252.6 L788.0,256.4 L786.5,260.1 L785.0,263.8 L783.5,267.4 L782.0,271.0 L780.5,274.5 L779.0,278.0 L777.5,281.4 L776.0,284.7 L774.5,288.0 L773.0,291.2 L771.5,294.4 L770.0,297.5 L768.5,300.5 L767.0,303.4 L765.5,306.2 L764.0,309.0 L762.5,311.7 L761.0,314.3 L759.5,316.8 L758.0,319.3 L756.5,321.7 L755.0,324.0 L753.5,326.2 L752.0,328.4 L750.5,330.4 L749.0,332.5 L747.5,334.4 L746.0,336.2 L744.5,338.0 L743.0,339.7 L741.5,341.4 L740.0,343.0 L738.5,344.4 L737.0,345.9 L735.5,347.2 L734.0,348.5 L732.5,349.7 L731.0,350.8 L729.5,351.9 L728.0,352.9 L726.5,353.8 L725.0,354.7 L723.5,355.5 L722.0,356.2 L720.5,356.9 L719.0,357.4 L717.5,358.0 L716.0,358.4 L714.5,358.8 L713.0,359.1 L711.5,359.4 L710.0,359.5 L708.5,359.7 L707.0,359.7 L705.5,359.7 L704.0,359.7 L702.5,359.6 L701.0,359.4 L699.5,359.2 L698.0,358.9 L696.5,358.6 L695.0,358.2 L693.5,357.8 L692.0,357.3 L690.5,356.8 L689.0,356.3 L687.5,355.7 L686.0,355.0 L684.5,354.3 L683.0,353.6 L681.5,352.9 L680.0,352.1 L678.5,351.2 L677.0,350.4 L675.5,349.5 L674.0,348.6 L672.5,347.6 L671.0,346.7 L669.5,345.7 L668.0,344.6 L666.5,343.6 L665.0,342.5 L663.5,341.4 L662.0,340.3 L660.5,339.2 L659.0,338.1 L657.5,336.9 L656.0,335.8 L654.5,334.6 L653.0,333.4 L651.5,332.2 L650.0,331.0 L648.5,329.8 L647.0,328.6 L645.5,327.4 L644.0,326.1 L642.5,324.9 L641.0,323.7 L639.5,322.4 L638.0,321.2 L636.5,319.9 L635.0,318.6 L633.5,317.4 L632.0,316.1 L630.5,314.8 L629.0,313.6 L627.5,312.3 L626.0,311.0 L624.5,309.7 L623.0,308.5 L621.5,307.2 L620.0,305.9 L618.5,304.6 L617.0,303.3 L615.5,302.0 L614.0,300.7 L612.5,299.4 L611.0,298.1 L609.5,296.9 L608.0,295.6 L606.5,294.3 L605.0,293.0 L603.5,291.7 L602.0,290.4 L600.5,289.2 L599.0,287.9 L597.5,286.6 L596.0,285.3 L594.5,284.1 L593.0,282.8 L591.5,281.6 L590.0,280.3 L588.5,279.1 L587.0,277.8 L585.5,276.6 L584.0,275.3 L582.5,274.1 L581.0,272.9 L579.5,271.7 L578.0,270.5 L576.5,269.3 L575.0,268.1 L573.5,266.9 L572.0,265.7 L570.5,264.5 L569.0,263.3 L567.5,262.1 L566.0,261.0 L564.5,259.8 L563.0,258.7 L561.5,257.5 L560.0,256.4 L558.5,255.2 L557.0,254.1 L555.5,253.0 L554.0,251.8 L552.5,250.7 L551.0,249.6 L549.5,248.5 L548.0,247.4 L546.5,246.3 L545.0,245.2 L543.5,244.1 L542.0,243.1 L540.5,242.0 L539.0,240.9 L537.5,239.9 L536.0,238.8 L534.5,237.8 L533.0,236.7 L531.5,235.7 L530.0,234.7 L528.5,233.6 L527.0,232.6 L525.5,231.6 L524.0,230.6 L522.5,229.6 L521.0,228.6 L519.5,227.6 L518.0,226.6 L516.5,225.7 L515.0,224.7 L513.5,223.7 L512.0,222.8 L510.5,221.8 L509.0,220.9 L507.5,219.9 L506.0,219.0 L504.5,218.1 L503.0,217.1 L501.5,216.2 L500.0,215.3 L498.5,214.4 L497.0,213.5 L495.5,212.6 L494.0,211.7 L492.5,210.8 L491.0,210.0 L489.5,209.1 L488.0,208.3 L486.5,207.4 L485.0,206.6 L483.5,205.7 L482.0,204.9 L480.5,204.1 L479.0,203.2 L477.5,202.4 L476.0,201.6 L474.5,200.8 L473.0,200.0 L471.5,199.3 L470.0,198.5 L468.5,197.7 L467.0,197.0 L465.5,196.2 L464.0,195.5 L462.5,194.7 L461.0,194.0 L459.5,193.3 L458.0,192.6 L456.5,191.9 L455.0,191.2 L453.5,190.5 L452.0,189.8 L450.5,189.2 L449.0,188.5 L447.5,187.8 L446.0,187.2 L444.5,186.6 L443.0,186.0 L441.5,185.4 L440.0,184.8 L438.5,184.2 L437.0,183.6 L435.5,183.0 L434.0,182.5 L432.5,181.9 L431.0,181.4 L429.5,180.9 L428.0,180.4 L426.5,179.9 L425.0,179.4 L423.5,179.0 L422.0,178.5 L420.5,178.1 L419.0,177.7 L417.5,177.3 L416.0,176.9 L414.5,176.5 L413.0,176.2 L411.5,175.9 L410.0,175.6 L408.5,175.3 L407.0,175.0 L405.5,174.7 L404.0,174.5 L402.5,174.3 L401.0,174.1 L399.5,174.0 L398.0,173.8 L396.5,173.7 L395.0,173.6 L393.5,173.5 L392.0,173.5 L390.5,173.5 L389.0,173.5 L387.5,173.5 L386.0,173.6 L384.5,173.6 L383.0,173.7 L381.5,173.9 L380.0,174.0 L378.5,174.2 L377.0,174.4 L375.5,174.7 L374.0,174.9 L372.5,175.2 L371.0,175.5 L369.5,175.8 L368.0,176.2 L366.5,176.6 L365.0,177.0 L363.5,177.4 L362.0,177.8 L360.5,178.3 L359.0,178.8 L357.5,179.3 L356.0,179.8 L354.5,180.3 L353.0,180.9 L351.5,181.4 L350.0,182.0 L348.5,182.6 L347.0,183.2 L345.5,183.7 L344.0,184.3 L342.5,184.9 L341.0,185.5 L339.5,186.1 L338.0,186.7 L336.5,187.3 L335.0,187.9 L333.5,188.5 L332.0,189.1 L330.5,189.7 L329.0,190.3 L327.5,190.8 L326.0,191.4 L324.5,191.9 L323.0,192.5 L321.5,193.0 L320.0,193.5 L318.5,194.0 L317.0,194.5 L315.5,194.9 L314.0,195.4 L312.5,195.8 L311.0,196.3 L309.5,196.7 L308.0,197.1 L306.5,197.5 L305.0,197.8 L303.5,198.2 L302.0,198.5 L300.5,198.9 L299.0,199.2 L297.5,199.5 L296.0,199.8 L294.5,200.1 L293.0,200.3 L291.5,200.6 L290.0,200.8 L288.5,201.0 L287.0,201.2 L285.5,201.5 L284.0,201.7 L282.5,201.8 L281.0,202.0 L279.5,202.2 L278.0,202.3 L276.5,202.5 L275.0,202.6 L273.5,202.8 L272.0,202.9 L270.5,203.0 L269.0,203.1 L267.5,203.2 L266.0,203.3 L264.5,203.4 L263.0,203.5 L261.5,203.6 L260.0,203.7 L258.5,203.8 L257.0,203.8 L255.5,203.9 L254.0,204.0 L252.5,204.0 L251.0,204.1 L249.5,204.2 L248.0,204.2 L246.5,204.3 L245.0,204.3 L243.5,204.3 L242.0,204.4 L240.5,204.4 L239.0,204.5 L237.5,204.5 L236.0,204.5 L234.5,204.5 L233.0,204.6 L231.5,204.6 L230.0,204.6 L228.5,204.6 L227.0,204.7 L225.5,204.7 L224.0,204.7 L222.5,204.7 L221.0,204.7 L219.5,204.8 L218.0,204.8 L216.5,204.8 L215.0,204.8 L213.5,204.8 L212.0,204.8 L210.5,204.8 L209.0,204.9 L207.5,204.9 L206.0,204.9 L204.5,204.9 L203.0,204.9 L201.5,204.9 L200.0,204.9 L198.5,204.9 L197.0,204.9 L195.5,204.9 L194.0,204.9 L192.5,204.9 L191.0,204.9 L189.5,205.0 L188.0,205.0 L186.5,205.0 L185.0,205.0 L183.5,205.0 L182.0,205.0 L180.5,205.0 L179.0,205.0 L177.5,205.0 L176.0,205.0 L174.5,205.0 L173.0,205.0 L171.5,205.0 L170.0,205.0 L168.5,205.0 L167.0,205.0 L165.5,205.0 L164.0,205.0 L162.5,205.0 L161.0,205.0 L159.5,205.0 L158.0,205.1 L156.5,205.1 L155.0,205.1 L153.5,205.1 L152.0,205.1 L150.5,205.1 L149.0,205.1 L147.5,205.1 L146.0,205.1 L144.5,205.1 L143.0,205.1 L141.5,205.1 L140.0,205.1 L138.5,205.1 L137.0,205.1 L135.5,205.1 L134.0,205.1 L132.5,205.1 L131.0,205.1 L129.5,205.1 L128.0,205.1 L126.5,205.1 L125.0,205.1 L123.5,205.1 L122.0,205.1 L120.5,205.1 L119.0,205.1 L117.5,205.1 L116.0,205.1 L114.5,205.1Z" fill="#ff0000"/>
<path d="M114.5,155.0 L116.0,155.1 L117.5,155.1 L119.0,155.1 L120.5,155.1 L122.0,155.1 L123.5,155.1 L125.0,155.1 L126.5,155.1 L128.0,155.1 L129.5,155.1 L131.0,155.1 L132.5,155.1 L134.0,155.1 L135.5,155.1 L137.0,155.1 L138.5,155.1 L140.0,155.1 L141.5,155.1 L143.0,155.1 L144.5,155.1 L146.0,155.1 L147.5,155.1 L149.0,155.1 L150.5,155.1 L152.0,155.1 L153.5,155.1 L155.0,155.1 L156.5,155.1 L158.0,155.1 L159.5,155.1 L161.0,155.1 L162.5,155.1 L164.0,155.1 L165.5,155.1 L167.0,155.1 L168.5,155.0 L170.0,155.0 L171.5,155.0 L173.0,155.0 L174.5,155.0 L176.0,155.0 L177.5,155.0 L179.0,155.0 L180.5,155.0 L182.0,155.0 L183.5,155.0 L185.0,155.0 L186.5,155.0 L188.0,155.0 L189.5,155.0 L191.0,155.0 L192.5,155.0 L194.0,155.0 L195.5,155.0 L197.0,155.0 L198.5,155.0 L200.0,155.0 L201.5,155.0 L203.0,155.0 L204.5,155.0 L206.0,155.0 L207.5,155.0 L209.0,155.0 L210.5,155.0 L212.0,155.0 L213.5,155.0 L215.0,155.0 L216.5,155.0 L218.0,155.0 L219.5,155.0 L221.0,155.0 L222.5,155.0 L224.0,155.0 L225.5,155.0 L227.0,155.1 L228.5,155.1 L230.0,155.1 L231.5,155.1 L233.0,155.1 L234.5,155.1 L236.0,155.1 L237.5,155.1 L239.0,155.1 L240.5,155.1 L242.0,155.1 L243.5,155.1 L245.0,155.1 L246.5,155.1 L248.0,155.1 L249.5,155.1 L251.0,155.1 L252.5,155.1 L254.0,155.1 L255.5,155.1 L257.0,155.1 L258.5,155.1 L260.0,155.1 L261.5,155.1 L263.0,155.1 L264.5,155.1 L266.0,155.1 L267.5,155.1 L269.0,155.1 L270.5,155.1 L272.0,155.1 L273.5,155.1 L275.0,155.1 L276.5,155.1 L278.0,155.1 L279.5,155.1 L281.0,155.1 L282.5,155.1 L284.0,155.1 L285.5,155.1 L287.0,155.1 L288.5,155.1 L290.0,155.1 L291.5,155.1 L293.0,155.1 L294.5,155.0 L296.0,155.0 L297.5,155.0 L299.0,155.0 L300.5,155.0 L302.0,155.0 L303.5,155.0 L305.0,155.0 L306.5,155.0 L308.0,155.0 L309.5,155.0 L311.0,155.0 L312.5,155.0 L314.0,155.0 L315.5,155.0 L317.0,155.0 L318.5,155.0 L320.0,155.0 L321.5,155.1 L323.0,155.1 L324.5,155.1 L326.0,155.1 L327.5,155.2 L329.0,155.2 L330.5,155.3 L332.0,155.3 L333.5,155.4 L335.0,155.4 L336.5,155.5 L338.0,155.6 L339.5,155.7 L341.0,155.8 L342.5,155.9 L344.0,156.0 L345.5,156.1 L347.0,156.3 L348.5,156.4 L350.0,156.6 L351.5,156.7 L353.0,156.9 L354.5,157.1 L356.0,157.3 L357.5,157.5 L359.0,157.7 L360.5,157.9 L362.0,158.2 L363.5,158.4 L365.0,158.7 L366.5,159.0 L368.0,159.3 L369.5,159.5 L371.0,159.9 L372.5,160.2 L374.0,160.5 L375.5,160.8 L377.0,161.2 L378.5,161.5 L380.0,161.9 L381.5,162.3 L383.0,162.6 L384.5,163.0 L386.0,163.4 L387.5,163.8 L389.0,164.3 L390.5,164.7 L392.0,165.1 L393.5,165.6 L395.0,166.0 L396.5,166.5 L398.0,167.0 L399.5,167.4 L401.0,167.9 L402.5,168.4 L404.0,168.9 L405.5,169.4 L407.0,170.0 L408.5,170.5 L410.0,171.0 L411.5,171.6 L413.0,172.1 L414.5,172.7 L416.0,173.2 L417.5,173.8 L419.0,174.4 L420.5,175.0 L422.0,175.6 L423.5,176.2 L425.0,176.8 L426.5,177.4 L428.0,178.0 L429.5,178.7 L431.0,179.3 L432.5,179.9 L434.0,180.6 L435.5,181.3 L437.0,181.9 L438.5,182.6 L440.0,183.3 L441.5,183.9 L443.0,184.6 L444.5,185.3 L446.0,186.0 L447.5,186.7 L449.0,187.4 L450.5,188.1 L452.0,188.9 L453.5,189.6 L455.0,190.3 L456.5,191.1 L458.0,191.8 L459.5,192.6 L461.0,193.3 L462.5,194.1 L464.0,194.9 L465.5,195.6 L467.0,196.4 L468.5,197.2 L470.0,198.0 L471.5,198.8 L473.0,199.6 L474.5,200.4 L476.0,201.3 L477.5,202.1 L479.0,202.9 L480.5,203.7 L482.0,204.6 L483.5,205.4 L485.0,206.3 L486.5,207.1 L488.0,208.0 L489.5,208.9 L491.0,209.8 L492.5,210.6 L494.0,211.5 L495.5,212.4 L497.0,213.3 L498.5,214.2 L500.0,215.2 L501.5,216.1 L503.0,217.0 L504.5,217.9 L506.0,218.9 L507.5,219.8 L509.0,220.8 L510.5,221.7 L512.0,222.7 L513.5,223.6 L515.0,224.6 L516.5,225.6 L518.0,226.6 L519.5,227.5 L521.0,228.5 L522.5,229.5 L524.0,230.5 L525.5,231.6 L527.0,232.6 L528.5,233.6 L530.0,234.6 L531.5,235.7 L533.0,236.7 L534.5,237.7 L536.0,238.8 L537.5,239.8 L539.0,240.9 L540.5,242.0 L542.0,243.0 L543.5,244.1 L545.0,245.2 L546.5,246.3 L548.0,247.4 L549.5,248.5 L551.0,249.6 L552.5,250.7 L554.0,251.8 L555.5,253.0 L557.0,254.1 L558.5,255.2 L560.0,256.4 L561.5,257.5 L563.0,258.6 L564.5,259.8 L566.0,261.0 L567.5,262.1 L569.0,263.3 L570.5,264.5 L572.0,265.7 L573.5,266.9 L575.0,268.1 L576.5,269.3 L578.0,270.5 L579.5,271.7 L581.0,272.9 L582.5,274.1 L584.0,275.3 L585.5,276.6 L587.0,277.8 L588.5,279.0 L590.0,280.3 L591.5,281.6 L593.0,282.8 L594.5,284.1 L596.0,285.3 L597.5,286.6 L599.0,287.9 L600.5,289.2 L602.0,290.4 L603.5,291.7 L605.0,293.0 L606.5,294.3 L608.0,295.6 L609.5,296.9 L611.0,298.1 L612.5,299.4 L614.0,300.7 L615.5,302.0 L617.0,303.3 L618.5,304.6 L620.0,305.9 L621.5,307.2 L623.0,308.5 L624.5,309.7 L626.0,311.0 L627.5,312.3 L629.0,313.6 L630.5,314.8 L632.0,316.1 L633.5,317.4 L635.0,318.6 L636.5,319.9 L638.0,321.2 L639.5,322.4 L641.0,323.7 L642.5,324.9 L644.0,326.1 L645.5,327.4 L647.0,328.6 L648.5,329.8 L650.0,331.0 L651.5,332.2 L653.0,333.4 L654.5,334.6 L656.0,335.8 L657.5,336.9 L659.0,338.1 L660.5,339.2 L662.0,340.3 L663.5,341.4 L665.0,342.5 L666.5,343.6 L668.0,344.6 L669.5,345.7 L671.0,346.7 L672.5,347.6 L674.0,348.6 L675.5,349.5 L677.0,350.4 L678.5,351.2 L680.0,352.1 L681.5,352.9 L683.0,353.6 L684.5,354.3 L686.0,355.0 L687.5,355.7 L689.0,356.3 L690.5,356.8 L692.0,357.3 L693.5,357.8 L695.0,358.2 L696.5,358.6 L698.0,358.9 L699.5,359.2 L701.0,359.4 L702.5,359.6 L704.0,359.7 L705.5,359.7 L707.0,359.7 L708.5,359.7 L710.0,359.5 L711.5,359.4 L713.0,359.1 L714.5,358.8 L716.0,358.4 L717.5,358.0 L719.0,357.4 L720.5,356.9 L722.0,356.2 L723.5,355.5 L725.0,354.7 L726.5,353.8 L728.0,352.9 L729.5,351.9 L731.0,350.8 L732.5,349.7 L734.0,348.5 L735.5,347.2 L737.0,345.9 L738.5,344.4 L740.0,343.0 L741.5,341.4 L743.0,339.7 L744.5,338.0 L746.0,336.2 L747.5,334.4 L749.0,332.5 L750.5,330.4 L752.0,328.4 L753.5,326.2 L755.0,324.0 L756.5,321.7 L758.0,319.3 L759.5,316.8 L761.0,314.3 L762.5,311.7 L764.0,309.0 L765.5,306.2 L767.0,303.4 L768.5,300.5 L770.0,297.5 L771.5,294.4 L773.0,291.2 L774.5,288.0 L776.0,284.7 L777.5,281.4 L779.0,278.0 L780.5,274.5 L782.0,271.0 L783.5,267.4 L785.0,263.8 L786.5,260.1 L788.0,256.4 L789.5,252.6 L791.0,248.8 L792.5,245.0 L794.0,241.2 L795.5,237.3 L797.0,233.4 L798.5,229.5 L800.0,225.5 L801.5,221.5 L803.0,217.6 L804.5,213.6 L806.0,209.6 L807.5,205.5 L809.0,201.5 L810.5,197.4 L812.0,193.4 L813.5,189.3 L815.0,185.2 L816.5,181.1 L818.0,177.0 L819.5,172.9 L821.0,168.8 L823.5,161.9" fill="none" stroke="#ff0000" stroke-width="1.45"/>
<path d="M114.5,155.0 L116.0,155.1 L117.5,155.1 L119.0,155.1 L120.5,155.1 L122.0,155.1 L123.5,155.1 L125.0,155.1 L126.5,155.1 L128.0,155.1 L129.5,155.1 L131.0,155.1 L132.5,155.1 L134.0,155.1 L135.5,155.1 L137.0,155.1 L138.5,155.1 L140.0,155.1 L141.5,155.1 L143.0,155.1 L144.5,155.1 L146.0,155.1 L147.5,155.1 L149.0,155.1 L150.5,155.1 L152.0,155.1 L153.5,155.1 L155.0,155.1 L156.5,155.1 L158.0,155.1 L159.5,155.1 L161.0,155.1 L162.5,155.1 L164.0,155.1 L165.5,155.1 L167.0,155.1 L168.5,155.0 L170.0,155.0 L171.5,155.0 L173.0,155.0 L174.5,155.0 L176.0,155.0 L177.5,155.0 L179.0,155.0 L180.5,155.0 L182.0,155.0 L183.5,155.0 L185.0,155.0 L186.5,155.0 L188.0,155.0 L189.5,155.0 L191.0,155.0 L192.5,155.0 L194.0,155.0 L195.5,155.0 L197.0,155.0 L198.5,155.0 L200.0,155.0 L201.5,155.0 L203.0,155.0 L204.5,155.0 L206.0,155.0 L207.5,155.0 L209.0,155.0 L210.5,155.0 L212.0,155.0 L213.5,155.0 L215.0,155.0 L216.5,155.0 L218.0,155.0 L219.5,155.0 L221.0,155.0 L222.5,155.0 L224.0,155.0 L225.5,155.0 L227.0,155.1 L228.5,155.1 L230.0,155.1 L231.5,155.1 L233.0,155.1 L234.5,155.1 L236.0,155.1 L237.5,155.1 L239.0,155.1 L240.5,155.1 L242.0,155.1 L243.5,155.1 L245.0,155.1 L246.5,155.1 L248.0,155.1 L249.5,155.1 L251.0,155.1 L252.5,155.1 L254.0,155.1 L255.5,155.1 L257.0,155.1 L258.5,155.1 L260.0,155.1 L261.5,155.1 L263.0,155.1 L264.5,155.1 L266.0,155.1 L267.5,155.1 L269.0,155.1 L270.5,155.1 L272.0,155.1 L273.5,155.1 L275.0,155.1 L276.5,155.1 L278.0,155.1 L279.5,155.1 L281.0,155.1 L282.5,155.1 L284.0,155.1 L285.5,155.1 L287.0,155.1 L288.5,155.1 L290.0,155.1 L291.5,155.1 L293.0,155.1 L294.5,155.0 L296.0,155.0 L297.5,155.0 L299.0,155.0 L300.5,155.0 L302.0,155.0 L303.5,155.0 L305.0,155.0 L306.5,155.0 L308.0,155.0 L309.5,155.0 L311.0,155.0 L312.5,155.0 L314.0,155.0 L315.5,155.0 L317.0,155.0 L318.5,155.0 L320.0,155.0 L321.5,155.1 L323.0,155.1 L324.5,155.1 L326.0,155.1 L327.5,155.2 L329.0,155.2 L330.5,155.3 L332.0,155.3 L333.5,155.4 L335.0,155.4 L336.5,155.5 L338.0,155.6 L339.5,155.7 L341.0,155.8 L342.5,155.9 L344.0,156.0 L345.5,156.1 L347.0,156.3 L348.5,156.4 L350.0,156.6 L351.5,156.7 L353.0,156.9 L354.5,157.1 L356.0,157.3 L357.5,157.5 L359.0,157.7 L360.5,157.9 L362.0,158.2 L363.5,158.4 L365.0,158.7 L366.5,159.0 L368.0,159.3 L369.5,159.5 L371.0,159.9 L372.5,160.2 L374.0,160.5 L375.5,160.8 L377.0,161.2 L378.5,161.5 L380.0,161.9 L381.5,162.3 L383.0,162.6 L384.5,163.0 L386.0,163.4 L387.5,163.8 L389.0,164.3 L390.5,164.7 L392.0,165.1 L393.5,165.6 L395.0,166.0 L396.5,166.5 L398.0,167.0 L399.5,167.4 L401.0,167.9 L402.5,168.4 L404.0,168.9 L405.5,169.4 L407.0,170.0 L408.5,170.5 L410.0,171.0 L411.5,171.6 L413.0,172.1 L414.5,172.7 L416.0,173.2 L417.5,173.8 L419.0,174.4 L420.5,175.0 L422.0,175.6 L423.5,176.2 L425.0,176.8 L426.5,177.4 L428.0,178.0 L429.5,178.7 L431.0,179.3 L432.5,179.9 L434.0,180.6 L435.5,181.3 L437.0,181.9 L438.5,182.6 L440.0,183.3 L441.5,183.9 L443.0,184.6 L444.5,185.3 L446.0,186.0 L447.5,186.7 L449.0,187.4 L450.5,188.1 L452.0,188.9 L453.5,189.6 L455.0,190.3 L456.5,191.1 L458.0,191.8 L459.5,192.6 L461.0,193.3 L462.5,194.1 L464.0,194.9 L465.5,195.6 L467.0,196.4 L468.5,197.2 L470.0,198.0 L471.5,198.8 L473.0,199.6 L474.5,200.4 L476.0,201.3 L477.5,202.1 L479.0,202.9 L480.5,203.7 L482.0,204.6 L483.5,205.4 L485.0,206.3 L486.5,207.1 L488.0,208.0 L489.5,208.9 L491.0,209.8 L492.5,210.6 L494.0,211.5 L495.5,212.4 L497.0,213.3 L498.5,214.2 L500.0,215.2 L501.5,216.1 L503.0,217.0 L504.5,217.9 L506.0,218.9 L507.5,219.8 L509.0,220.8 L510.5,221.7 L512.0,222.7 L513.5,223.6 L515.0,224.6 L516.5,225.6 L518.0,226.6 L519.5,227.5 L521.0,228.5 L522.5,229.5 L524.0,230.5 L525.5,231.6 L527.0,232.6 L528.5,233.6 L530.0,234.6 L531.5,235.7 L533.0,236.7 L534.5,237.7 L536.0,238.8 L537.5,239.8 L539.0,240.9 L540.5,242.0 L542.0,243.0 L543.5,244.1 L545.0,245.2 L546.5,246.3 L548.0,247.4 L549.5,248.5 L551.0,249.6 L552.5,250.7 L554.0,251.8 L555.5,253.0 L557.0,254.1 L558.5,255.2 L560.0,256.4 L561.5,257.5 L563.0,258.6 L564.5,259.8 L566.0,261.0 L567.5,262.1 L569.0,263.3 L570.5,264.5 L572.0,265.7 L573.5,266.9 L575.0,268.1 L576.5,269.3 L578.0,270.5 L579.5,271.7 L581.0,272.9 L582.5,274.1 L584.0,275.3 L585.5,276.6 L587.0,277.8 L588.5,279.0 L590.0,280.3 L591.5,281.6 L593.0,282.8 L594.5,284.1 L596.0,285.3 L597.5,286.6 L599.0,287.9 L600.5,289.2 L602.0,290.4 L603.5,291.7 L605.0,293.0 L606.5,294.3 L608.0,295.6 L609.5,296.9 L611.0,298.1 L612.5,299.4 L614.0,300.7 L615.5,302.0 L617.0,303.3 L618.5,304.6 L620.0,305.9 L621.5,307.2 L623.0,308.5 L624.5,309.7 L626.0,311.0 L627.5,312.3 L629.0,313.6 L630.5,314.8 L632.0,316.1 L633.5,317.4 L635.0,318.6 L636.5,319.9 L638.0,321.2 L639.5,322.4 L641.0,323.7 L642.5,324.9 L644.0,326.1 L645.5,327.4 L647.0,328.6 L648.5,329.8 L650.0,331.0 L651.5,332.2 L653.0,333.4 L654.5,334.6 L656.0,335.8 L657.5,336.9 L659.0,338.1 L660.5,339.2 L662.0,340.3 L663.5,341.4 L665.0,342.5 L666.5,343.6 L668.0,344.6 L669.5,345.7 L671.0,346.7 L672.5,347.6 L674.0,348.6 L675.5,349.5 L677.0,350.4 L678.5,351.2 L680.0,352.1 L681.5,352.9 L683.0,353.6 L684.5,354.3 L686.0,355.0 L687.5,355.7 L689.0,356.3 L690.5,356.8 L692.0,357.3 L693.5,357.8 L695.0,358.2 L696.5,358.6 L698.0,358.9 L699.5,359.2 L701.0,359.4 L702.5,359.6 L704.0,359.7 L705.5,359.7 L707.0,359.7 L708.5,359.7 L710.0,359.5 L711.5,359.4 L713.0,359.1 L714.5,358.8 L716.0,358.4 L717.5,358.0 L719.0,357.4 L720.5,356.9 L722.0,356.2 L723.5,355.5 L725.0,354.7 L726.5,353.8 L728.0,352.9 L729.5,351.9 L731.0,350.8 L732.5,349.7 L734.0,348.5 L735.5,347.2 L737.0,345.9 L738.5,344.4 L740.0,343.0 L741.5,341.4 L743.0,339.7 L744.5,338.0 L746.0,336.2 L747.5,334.4 L749.0,332.5 L750.5,330.4 L752.0,328.4 L753.5,326.2 L755.0,324.0 L756.5,321.7 L758.0,319.3 L759.5,316.8 L761.0,314.3 L762.5,311.7 L764.0,309.0 L765.5,306.2 L767.0,303.4 L768.5,300.5 L770.0,297.5 L771.5,294.4 L773.0,291.2 L774.5,288.0 L776.0,284.7 L777.5,281.4 L779.0,278.0 L780.5,274.5 L782.0,271.0 L783.5,267.4 L785.0,263.8 L786.5,260.1 L788.0,256.4 L789.5,252.6 L791.0,248.8 L792.5,245.0 L794.0,241.2 L795.5,237.3 L797.0,233.4 L798.5,229.5 L800.0,225.5 L801.5,221.5 L803.0,217.6 L804.5,213.6 L806.0,209.6 L807.5,205.5 L809.0,201.5 L810.5,197.4 L812.0,193.4 L813.5,189.3 L815.0,185.2 L816.5,181.1 L818.0,177.0 L819.5,172.9 L821.0,168.8 L823.5,161.9" fill="none" stroke="#000000" stroke-width="1.25"/>
</g>
<path d="M114.50,440.3 v-7.6 M114.50,1.6 v7.6 M138.13,440.3 v-4.6 M138.13,1.6 v4.6 M161.77,440.3 v-4.6 M161.77,1.6 v4.6 M185.40,440.3 v-4.6 M185.40,1.6 v4.6 M209.03,440.3 v-4.6 M209.03,1.6 v4.6 M232.67,440.3 v-7.6 M232.67,1.6 v7.6 M256.30,440.3 v-4.6 M256.30,1.6 v4.6 M279.93,440.3 v-4.6 M279.93,1.6 v4.6 M303.57,440.3 v-4.6 M303.57,1.6 v4.6 M327.20,440.3 v-4.6 M327.20,1.6 v4.6 M350.83,440.3 v-7.6 M350.83,1.6 v7.6 M374.47,440.3 v-4.6 M374.47,1.6 v4.6 M398.10,440.3 v-4.6 M398.10,1.6 v4.6 M421.73,440.3 v-4.6 M421.73,1.6 v4.6 M445.37,440.3 v-4.6 M445.37,1.6 v4.6 M469.00,440.3 v-7.6 M469.00,1.6 v7.6 M492.63,440.3 v-4.6 M492.63,1.6 v4.6 M516.27,440.3 v-4.6 M516.27,1.6 v4.6 M539.90,440.3 v-4.6 M539.90,1.6 v4.6 M563.53,440.3 v-4.6 M563.53,1.6 v4.6 M587.17,440.3 v-7.6 M587.17,1.6 v7.6 M610.80,440.3 v-4.6 M610.80,1.6 v4.6 M634.43,440.3 v-4.6 M634.43,1.6 v4.6 M658.07,440.3 v-4.6 M658.07,1.6 v4.6 M681.70,440.3 v-4.6 M681.70,1.6 v4.6 M705.33,440.3 v-7.6 M705.33,1.6 v7.6 M728.97,440.3 v-4.6 M728.97,1.6 v4.6 M752.60,440.3 v-4.6 M752.60,1.6 v4.6 M776.23,440.3 v-4.6 M776.23,1.6 v4.6 M799.87,440.3 v-4.6 M799.87,1.6 v4.6 M823.50,440.3 v-7.6 M823.50,1.6 v7.6 M114.5,424.51 h4.6 M823.5,424.51 h-4.6 M114.5,408.85 h7.6 M823.5,408.85 h-7.6 M114.5,393.19 h4.6 M823.5,393.19 h-4.6 M114.5,377.53 h4.6 M823.5,377.53 h-4.6 M114.5,361.87 h4.6 M823.5,361.87 h-4.6 M114.5,346.21 h7.6 M823.5,346.21 h-7.6 M114.5,330.55 h4.6 M823.5,330.55 h-4.6 M114.5,314.89 h4.6 M823.5,314.89 h-4.6 M114.5,299.23 h4.6 M823.5,299.23 h-4.6 M114.5,283.57 h7.6 M823.5,283.57 h-7.6 M114.5,267.91 h4.6 M823.5,267.91 h-4.6 M114.5,252.25 h4.6 M823.5,252.25 h-4.6 M114.5,236.59 h4.6 M823.5,236.59 h-4.6 M114.5,220.93 h7.6 M823.5,220.93 h-7.6 M114.5,205.27 h4.6 M823.5,205.27 h-4.6 M114.5,189.61 h4.6 M823.5,189.61 h-4.6 M114.5,173.95 h4.6 M823.5,173.95 h-4.6 M114.5,158.29 h7.6 M823.5,158.29 h-7.6 M114.5,142.63 h4.6 M823.5,142.63 h-4.6 M114.5,126.97 h4.6 M823.5,126.97 h-4.6 M114.5,111.31 h4.6 M823.5,111.31 h-4.6 M114.5,95.65 h7.6 M823.5,95.65 h-7.6 M114.5,79.99 h4.6 M823.5,79.99 h-4.6 M114.5,64.33 h4.6 M823.5,64.33 h-4.6 M114.5,48.67 h4.6 M823.5,48.67 h-4.6 M114.5,33.01 h7.6 M823.5,33.01 h-7.6 M114.5,17.35 h4.6 M823.5,17.35 h-4.6" fill="none" stroke="#000" stroke-opacity="0.6" stroke-width="1"/>
<path d="M114.5,1.1 V440.3 H823.5 V1.1" fill="none" stroke="#000" stroke-opacity="0.6" stroke-width="1.1" stroke-linejoin="miter"/>
<path d="M114.0,1.5 H824.0" fill="none" stroke="#000" stroke-opacity="0.38" stroke-width="1.0"/>
<path d="M159.5,171.0 V296.2 M156.1,171.0 h6.8 M156.1,296.2 h6.8" stroke="#000" stroke-width="1.0" fill="none"/><circle cx="159.5" cy="233.6" r="2.9" fill="#000"/>
<path d="M374.7,67.5 V154.9 M371.3,67.5 h6.8 M371.3,154.9 h6.8" stroke="#000" stroke-width="1.0" fill="none"/><circle cx="374.7" cy="111.2" r="2.9" fill="#000"/>
<path d="M378.0,12.299999999999997 V200.3 M374.6,12.299999999999997 h6.8 M374.6,200.3 h6.8" stroke="#000" stroke-width="1.0" fill="none"/><circle cx="378.0" cy="106.3" r="2.9" fill="#000"/>
<path d="M551.6,87.69999999999999 V181.7 M548.2,87.69999999999999 h6.8 M548.2,181.7 h6.8" stroke="#000" stroke-width="1.0" fill="none"/><circle cx="551.6" cy="134.7" r="2.9" fill="#000"/>
<path d="M700.5,344.7 V357.7 M697.1,344.7 h6.8 M697.1,357.7 h6.8" stroke="#000" stroke-width="1.0" fill="none"/><circle cx="700.5" cy="351.2" r="2.9" fill="#000"/>
<path d="M700.5,369.90000000000003 V386.7 M697.1,369.90000000000003 h6.8 M697.1,386.7 h6.8" stroke="#000" stroke-width="1.0" fill="none"/><circle cx="700.5" cy="378.3" r="2.9" fill="#000"/>
<path d="M336.1,338.2 V353.8 M332.70000000000005,338.2 h6.8 M332.70000000000005,353.8 h6.8" stroke="#ff0000" stroke-width="1.0" fill="none"/><circle cx="336.1" cy="346.0" r="2.9" fill="#ff0000"/>
<ellipse cx="19.5" cy="217.2" rx="8.55" ry="7.35" fill="none" stroke="#000" stroke-width="2.3"/>
<rect x="18.0" y="211.8" width="1.9" height="9.0" fill="#000"/>
</svg>
<div id="tl">
<div class="t" style="left:108.9px;top:390.79px;font-size:29.8px;color:#000;transform-origin:100% 0;transform:translateX(-100%) scaleX(0.94);">0.230</div>
<div class="t" style="left:108.9px;top:328.15px;font-size:29.8px;color:#000;transform-origin:100% 0;transform:translateX(-100%) scaleX(0.94);">0.232</div>
<div class="t" style="left:108.9px;top:265.51px;font-size:29.8px;color:#000;transform-origin:100% 0;transform:translateX(-100%) scaleX(0.94);">0.234</div>
<div class="t" style="left:108.9px;top:202.87px;font-size:29.8px;color:#000;transform-origin:100% 0;transform:translateX(-100%) scaleX(0.94);">0.236</div>
<div class="t" style="left:108.9px;top:140.23px;font-size:29.8px;color:#000;transform-origin:100% 0;transform:translateX(-100%) scaleX(0.94);">0.238</div>
<div class="t" style="left:108.9px;top:77.59px;font-size:29.8px;color:#000;transform-origin:100% 0;transform:translateX(-100%) scaleX(0.94);">0.240</div>
<div class="t" style="left:108.9px;top:14.95px;font-size:29.8px;color:#000;transform-origin:100% 0;transform:translateX(-100%) scaleX(0.94);">0.242</div>
<div class="t" style="left:114.7px;top:440.81px;font-size:30.2px;color:#000;transform-origin:50% 0;transform:translateX(-50%) scaleX(0.93);"><span style="display:inline-block;transform:scaleX(1.16);transform-origin:100% 50%;margin-left:2.7px;margin-right:1.7px">&#8722;</span>3</div>
<div class="t" style="left:232.86666666666667px;top:440.81px;font-size:30.2px;color:#000;transform-origin:50% 0;transform:translateX(-50%) scaleX(0.93);"><span style="display:inline-block;transform:scaleX(1.16);transform-origin:100% 50%;margin-left:2.7px;margin-right:1.7px">&#8722;</span>2</div>
<div class="t" style="left:351.03333333333336px;top:440.81px;font-size:30.2px;color:#000;transform-origin:50% 0;transform:translateX(-50%) scaleX(0.93);"><span style="display:inline-block;transform:scaleX(1.16);transform-origin:100% 50%;margin-left:2.7px;margin-right:1.7px">&#8722;</span>1</div>
<div class="t" style="left:469.2px;top:440.81px;font-size:30.2px;color:#000;transform-origin:50% 0;transform:translateX(-50%) scaleX(0.93);">0</div>
<div class="t" style="left:587.3666666666668px;top:440.81px;font-size:30.2px;color:#000;transform-origin:50% 0;transform:translateX(-50%) scaleX(0.93);">1</div>
<div class="t" style="left:705.5333333333334px;top:440.81px;font-size:30.2px;color:#000;transform-origin:50% 0;transform:translateX(-50%) scaleX(0.93);">2</div>
<div class="t" style="left:823.7px;top:440.81px;font-size:30.2px;color:#000;transform-origin:50% 0;transform:translateX(-50%) scaleX(0.93);">3</div>
<div class="t" style="left:467.9px;top:480.81px;font-size:29.6px;color:#000;transform-origin:50% 0;transform:translateX(-50%) scaleX(0.915);word-spacing:0.8px;">Log<span style="font-size:22.5px;position:relative;top:7.6px;margin-left:0.6px">10</span> Q [GeV]</div>
<div class="t" style="left:621.8px;top:35.79px;font-size:22.1px;color:#0000ff;transform-origin:0 0;transform:translateX(0) scaleX(1.0);"><i>m</i><span style="font-size:15.3px;position:relative;top:3.7px;margin-left:0.5px">dark <i>Z</i></span></div>
<div class="t" style="left:691.0px;top:38.19px;font-size:22.1px;color:#0000ff;transform-origin:50% 0;transform:translateX(-50%) scaleX(1.18);">=</div>
<div class="t" style="left:788.2px;top:35.79px;font-size:22.1px;color:#0000ff;transform-origin:100% 0;transform:translateX(-100%) scaleX(1.0);">150 MeV</div>
<div class="t" style="left:621.8px;top:67.39px;font-size:22.1px;color:#ff0000;transform-origin:0 0;transform:translateX(0) scaleX(1.0);"><i>m</i><span style="font-size:15.3px;position:relative;top:3.7px;margin-left:0.5px">dark <i>Z</i></span></div>
<div class="t" style="left:691.0px;top:69.79px;font-size:22.1px;color:#ff0000;transform-origin:50% 0;transform:translateX(-50%) scaleX(1.18);">=</div>
<div class="t" style="left:788.2px;top:67.39px;font-size:22.1px;color:#ff0000;transform-origin:100% 0;transform:translateX(-100%) scaleX(1.0);">100 MeV</div>
<div class="t" style="left:323.0px;top:103.43px;font-size:17.4px;color:#000;transform-origin:0 0;transform:translateX(0) scaleX(1.052);">E158</div>
<div class="t" style="left:386.3px;top:25.33px;font-size:17.4px;color:#000;transform-origin:0 0;transform:translateX(0) scaleX(1.052);">Q<span style="font-size:11px;position:relative;top:4.6px">W</span><span style="font-size:9.5px;position:relative;top:-8.0px;left:0.2px">p</span></div>
<div class="t" style="left:386.3px;top:45.93px;font-size:17.4px;color:#000;transform-origin:0 0;transform:translateX(0) scaleX(1.052);">(Qweak +</div>
<div class="t" style="left:386.3px;top:67.63px;font-size:17.4px;color:#000;transform-origin:0 0;transform:translateX(0) scaleX(1.052);">other JLab</div>
<div class="t" style="left:386.3px;top:89.73px;font-size:17.4px;color:#000;transform-origin:0 0;transform:translateX(0) scaleX(1.052);">PVES)</div>
<div class="t" style="left:526.9px;top:56.22px;font-size:18.0px;color:#000;transform-origin:0 0;transform:translateX(0) scaleX(1.1);"><i>&#957;</i>&#8722;</div>
<div class="t" style="left:576.5px;top:56.22px;font-size:18.0px;color:#000;transform-origin:100% 0;transform:translateX(-100%) scaleX(1.035);">DIS</div>
<div class="t" style="left:136.9px;top:318.91px;font-size:18.5px;color:#000;transform-origin:0 0;transform:translateX(0) scaleX(0.992);">APV(Cs)</div>
<div class="t" style="left:346.4px;top:369.17px;font-size:18.3px;color:#ff0000;transform-origin:50% 0;transform:translateX(-50%) scaleX(1.0);">MOLLER</div>
<div class="t" style="left:350.8px;top:395.51px;font-size:22.2px;color:#ff0000;transform-origin:50% 0;transform:translateX(-50%) scaleX(1.0);">(Anticipated sensitivity)</div>
<div class="t" style="left:700.1px;top:323.00px;font-size:17.2px;color:#000;transform-origin:50% 0;transform:translateX(-50%) scaleX(1.075);">LEP</div>
<div class="t" style="left:700.6px;top:394.24px;font-size:17.5px;color:#000;transform-origin:50% 0;transform:translateX(-50%) scaleX(1.055);">SLAC</div>
<div class="t" id="yt" style="left:29.2px;top:270.2px;font-size:29.0px;transform-origin:0 0;transform:rotate(-90deg) translate(0,-24.29px);">sin<span style="font-size:21px;position:relative;top:-11.6px;margin-left:-2.4px">2</span><span style="display:inline-block;width:19.2px"></span><span style="font-size:19px;font-style:italic;position:relative;top:4.1px;margin-left:-4.2px">W</span><span style="font-size:21px;position:relative;top:-11.6px;margin-left:0.5px">eff</span></div>
</div>
</div></body></html>
